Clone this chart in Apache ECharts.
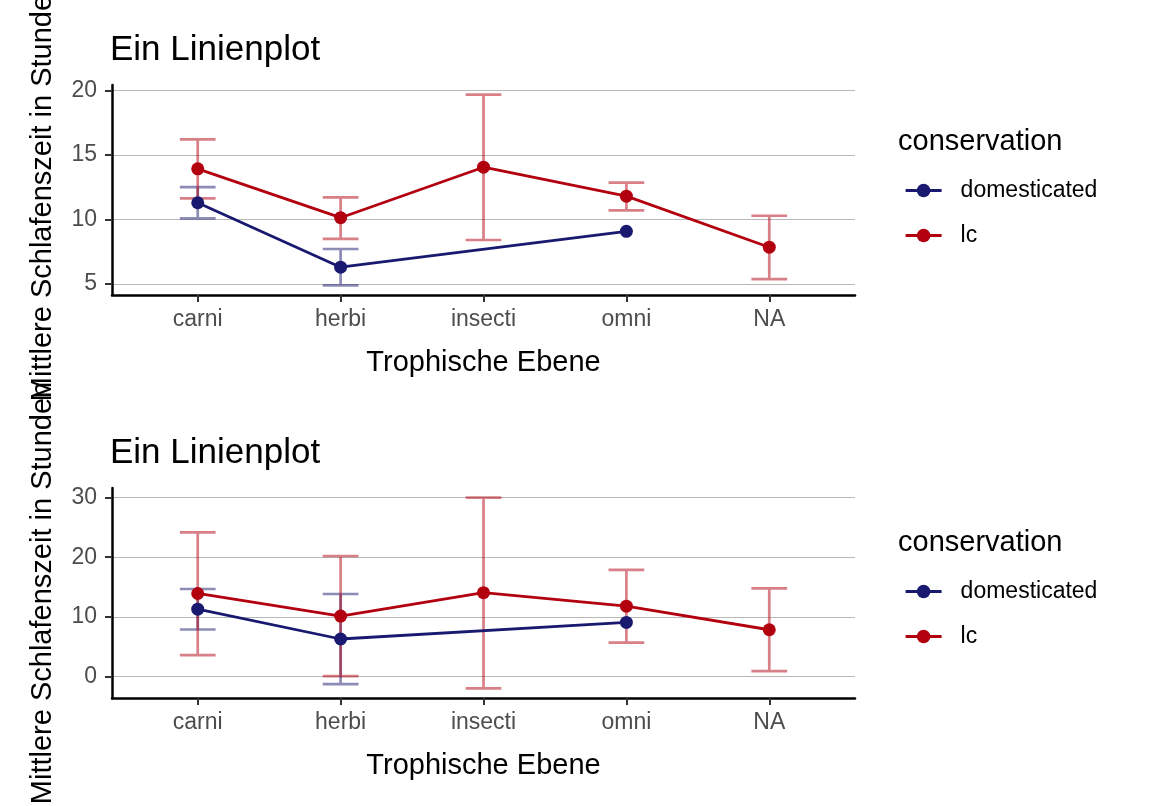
<!DOCTYPE html>
<html lang="de">
<head>
    <meta charset="UTF-8">
    <title>Ein Linienplot</title>
    <script src="https://cdn.jsdelivr.net/npm/echarts@6/dist/echarts.min.js"></script>
    <style>
        html, body { margin: 0; padding: 0; background: #fff; }
        #main { width: 1152px; height: 806px; }
    </style>
</head>
<body>
    <div id="main"></div>
    <script>
        // Kategorien und Werte
        var categories = ['carni', 'herbi', 'insecti', 'omni', 'NA'];
        var seriesNames = ['domesticated', 'lc'];

        var domMean = [11.29, 6.29, null, 9.07, null];
        var lcMean = [13.92, 10.13, 14.05, 11.8, 7.84];

        // oben: Mittelwert +/- Standardfehler
        var domSeLow = [10.08, 4.87, null, null, null];
        var domSeHigh = [12.5, 7.7, null, null, null];
        var lcSeLow = [11.63, 8.48, 8.4, 10.7, 5.36];
        var lcSeHigh = [16.21, 11.7, 19.69, 12.86, 10.28];

        // unten: Mittelwert +/- Standardabweichung
        var domSdLow = [7.88, -1.28, null, null, null];
        var domSdHigh = [14.67, 13.83, null, null, null];
        var lcSdLow = [3.6, 0.05, -2.0, 5.67, 0.89];
        var lcSdHigh = [24.17, 20.2, 30.0, 17.89, 14.78];

        var yTicksTop = [5, 10, 15, 20];
        var yTicksBottom = [0, 10, 20, 30];

        var blue = '#191970';
        var red = '#B3000F';
        var blueBar = 'rgba(25, 25, 112, 0.5)';
        var redBar = 'rgba(179, 0, 15, 0.5)';
        var font = "'Liberation Sans', Arial, sans-serif";

        function points(arr) {
            var out = [];
            for (var i = 0; i < arr.length; i++) {
                if (arr[i] != null) out.push([i, arr[i]]);
            }
            return out;
        }
        function bars(lo, hi) {
            var out = [];
            for (var i = 0; i < lo.length; i++) {
                if (lo[i] != null) out.push([i, lo[i], hi[i]]);
            }
            return out;
        }

        function errorBar(color) {
            return function (params, api) {
                var x = api.value(0);
                var lo = api.coord([x, api.value(1)]);
                var hi = api.coord([x, api.value(2)]);
                var half = api.size([0.25, 0])[0] / 2;
                var d = 'M' + hi[0] + ' ' + hi[1] + 'L' + lo[0] + ' ' + lo[1] +
                    'M' + (hi[0] - half) + ' ' + hi[1] + 'L' + (hi[0] + half) + ' ' + hi[1] +
                    'M' + (lo[0] - half) + ' ' + lo[1] + 'L' + (lo[0] + half) + ' ' + lo[1];
                return {
                    type: 'path',
                    shape: { pathData: d },
                    style: { fill: null, stroke: color, lineWidth: 2.7 }
                };
            };
        }

        function xAxis(idx) {
            return {
                type: 'value',
                gridIndex: idx,
                min: -0.6,
                max: 4.6,
                name: 'Trophische Ebene',
                nameLocation: 'middle',
                nameGap: 53,
                nameTextStyle: { fontFamily: font, fontSize: 29, color: '#000' },
                axisLine: { onZero: false, lineStyle: { color: '#000', width: 2.5 } },
                axisTick: { customValues: [0, 1, 2, 3, 4], length: 7, lineStyle: { color: '#333', width: 2 } },
                axisLabel: {
                    customValues: [0, 1, 2, 3, 4],
                    margin: 13,
                    fontFamily: font,
                    fontSize: 23,
                    color: '#4d4d4d',
                    formatter: function (v) { return categories[Math.round(v)]; }
                },
                splitLine: { show: false }
            };
        }

        function yAxis(idx, min, max, ticks) {
            return {
                type: 'value',
                gridIndex: idx,
                min: min,
                max: max,
                name: 'Mittlere Schlafenszeit in Stunden',
                nameLocation: 'middle',
                nameGap: 55,
                nameTextStyle: { fontFamily: font, fontSize: 29, color: '#000' },
                axisLine: { show: true, onZero: false, lineStyle: { color: '#000', width: 2.5 } },
                axisTick: { show: true, customValues: ticks, length: 7, lineStyle: { color: '#333', width: 2 } },
                axisLabel: { customValues: ticks, margin: 15, fontFamily: font, fontSize: 23, color: '#4d4d4d' },
                splitLine: { show: true, lineStyle: { color: '#b8b8b8', width: 1.2 } }
            };
        }

        function lineSeries(name, data, color, idx) {
            return {
                name: name,
                type: 'line',
                xAxisIndex: idx,
                yAxisIndex: idx,
                data: points(data),
                symbol: 'circle',
                symbolSize: 13,
                showSymbol: true,
                itemStyle: { color: color },
                lineStyle: { color: color, width: 2.8 },
                z: 3,
                animation: false
            };
        }

        function barSeries(lo, hi, color, idx) {
            return {
                type: 'custom',
                xAxisIndex: idx,
                yAxisIndex: idx,
                renderItem: errorBar(color),
                data: bars(lo, hi),
                z: 2,
                silent: true,
                animation: false
            };
        }

        function legend(top) {
            return {
                data: seriesNames,
                orient: 'vertical',
                left: 904,
                top: top,
                padding: 0,
                itemWidth: 36,
                itemHeight: 17,
                itemGap: 20,
                lineStyle: { width: 3.2 },
                textStyle: { fontFamily: font, fontSize: 23, color: '#000', lineHeight: 25, padding: [0, 0, 0, 14] }
            };
        }

        var titleStyle = { fontFamily: font, fontSize: 35, fontWeight: 'normal', color: '#000' };
        var legendTitleStyle = { fontFamily: font, fontSize: 29, fontWeight: 'normal', color: '#000' };

        var chart = echarts.init(document.getElementById('main'));
        var option = {
            backgroundColor: '#fff',
            animation: false,
            title: [
                { text: 'Ein Linienplot', left: 110, top: 33, padding: 0, textStyle: titleStyle },
                { text: 'Ein Linienplot', left: 110, top: 436, padding: 0, textStyle: titleStyle },
                { text: 'conservation', left: 898, top: 127, padding: 0, textStyle: legendTitleStyle },
                { text: 'conservation', left: 898, top: 528, padding: 0, textStyle: legendTitleStyle }
            ],
            legend: [legend(178), legend(579)],
            grid: [
                { left: 112, right: 297, top: 85, height: 210, outerBoundsMode: 'none' },
                { left: 112, right: 297, top: 488, height: 210, outerBoundsMode: 'none' }
            ],
            xAxis: [xAxis(0), xAxis(1)],
            yAxis: [
                yAxis(0, 4.13, 20.43, yTicksTop),
                yAxis(1, -3.6, 31.6, yTicksBottom)
            ],
            series: [
                barSeries(domSeLow, domSeHigh, blueBar, 0),
                barSeries(lcSeLow, lcSeHigh, redBar, 0),
                lineSeries('domesticated', domMean, blue, 0),
                lineSeries('lc', lcMean, red, 0),
                barSeries(domSdLow, domSdHigh, blueBar, 1),
                barSeries(lcSdLow, lcSdHigh, redBar, 1),
                lineSeries('domesticated', domMean, blue, 1),
                lineSeries('lc', lcMean, red, 1)
            ]
        };
        chart.setOption(option);
    </script>
</body>
</html>
